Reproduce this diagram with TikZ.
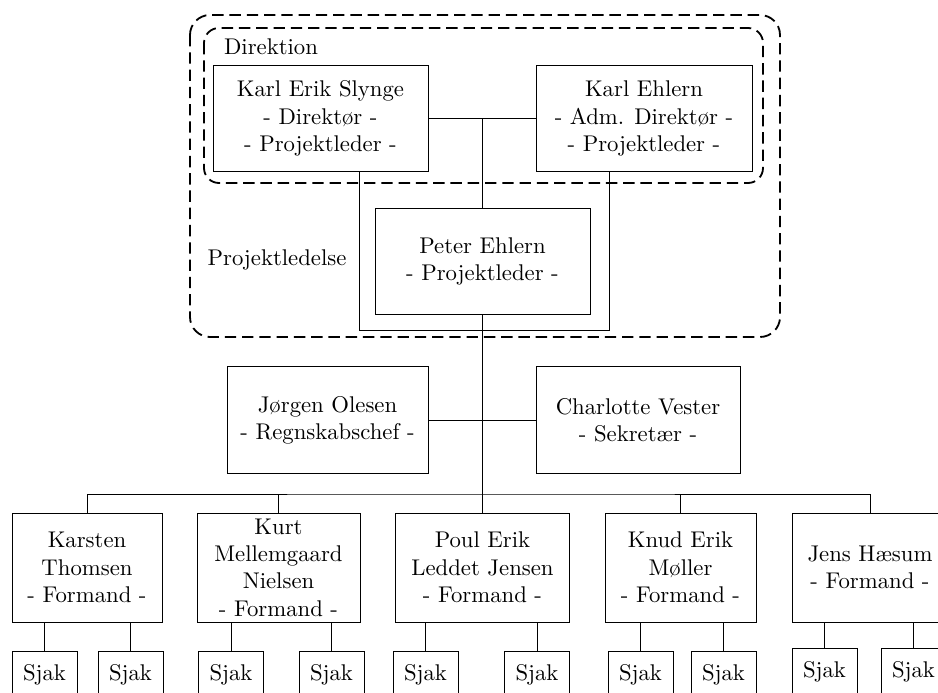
\documentclass[tikz,border=0pt]{standalone}
\usepackage{fontspec}
\usepackage{tikz}

\begin{document}
\begin{tikzpicture}[x=0.44pt,y=-0.44pt,
        person/.style={rectangle,draw,align=center,inner sep=1pt,minimum height=47pt},
        formand/.style={person,minimum height=48pt},
        sjak/.style={rectangle,draw,anchor=north,minimum width=28.6pt,
          inner ysep=5.8pt,text height=7pt,text depth=10pt},
        group/.style={thick,dash pattern=on 5pt off 2.6pt}]
        \useasboundingbox (0,0) rectangle (938,693);
        \clip (0,0) rectangle (938,693);

        % ledelse
        \node[person,minimum width=94.6pt] (kes) at (320.5,118.5) {Karl Erik Slynge\\- Direktør -\\- Projektleder -};
        \node[person,minimum width=95pt] (ke) at (644,118.5) {Karl Ehlern\\- Adm. Direktør -\\- Projektleder -};
        \node[person,minimum width=94.6pt] (peter) at (482.5,261.5) {Peter Ehlern\\- Projektleder -};
        \node (direktion) at (271,47) {Direktion};
        \node (ledelse) at (277,260) {Projektledelse};

        % stab
        \node[person,minimum width=88.4pt] (jorgen) at (327.5,420) {Jørgen Olesen\\- Regnskabschef -};
        \node[person,minimum width=89.8pt] (charlotte) at (638,420) {Charlotte Vester\\- Sekretær -};

        % formænd
        \node[formand,minimum width=66pt] (karsten) at (87,567.5) {Karsten\\Thomsen\\- Formand -};
        \node[formand,minimum width=71.7pt] (kurt) at (278.5,567.5) {Kurt\\Mellemgaard\\Nielsen\\- Formand -};
        \node[formand,minimum width=76.6pt] (poul) at (482.5,567.5) {Poul Erik\\Leddet Jensen\\- Formand -};
        \node[formand,minimum width=66.4pt] (knud) at (680.5,567.5) {Knud Erik\\Møller\\- Formand -};
        \node[formand,minimum width=68.6pt] (jens) at (870,567.5) {Jens Hæsum\\- Formand -};

        % sjak
        \node[sjak] (sj1) at (44.5,651) {Sjak};
        \node[sjak] (sj2) at (130.5,651) {Sjak};
        \node[sjak] (sj3) at (231,651) {Sjak};
        \node[sjak] (sj4) at (331.5,651) {Sjak};
        \node[sjak] (sj5) at (425.5,651) {Sjak};
        \node[sjak] (sj6) at (537,651) {Sjak};
        \node[sjak] (sj7) at (640.5,651) {Sjak};
        \node[sjak] (sj8) at (723.5,651) {Sjak};
        \node[sjak] (sj9) at (824.5,648) {Sjak};
        \node[sjak] (sj10) at (913.5,648) {Sjak};

        % grupper
        \draw[group,rounded corners=8.8pt] (190,15) rectangle (780,337);
        \draw[group,rounded corners=6.6pt] (204,28) rectangle (763,183);

        % forbindelser
        \coordinate (brl) at (359,330);
        \coordinate (brr) at (609,330);
        \coordinate (branch) at (483,494);
        \draw (kes) -- (ke);
        \draw (peter.north) -- (peter.north |- kes.east);
        \draw (kes.south -| brl) -- (brl) -- (brr) -- (ke.south -| brr);
        \draw (peter.south) -- (poul.north);
        \draw (jorgen) -- (charlotte);
        \draw (karsten.north) |- (branch) -| (jens.north);
        \draw (kurt.north) -- (kurt.north |- branch);
        \draw (knud.north) -- (knud.north |- branch);
        \foreach \f/\s in {karsten/sj1,karsten/sj2,kurt/sj3,kurt/sj4,poul/sj5,poul/sj6,
                knud/sj7,knud/sj8,jens/sj9,jens/sj10}
          \draw (\s.north) -- (\s.north |- \f.south);
\end{tikzpicture}
\end{document}
